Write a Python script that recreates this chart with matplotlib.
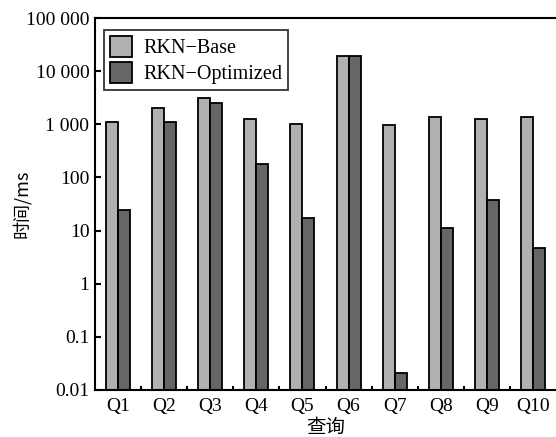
import numpy as np
import matplotlib
matplotlib.use("Agg")
import matplotlib.pyplot as plt
from matplotlib.ticker import FixedLocator, NullFormatter


# --------------------------------------------------
# Data
# --------------------------------------------------

queries = ["Q1", "Q2", "Q3", "Q4", "Q5", "Q6", "Q7", "Q8", "Q9", "Q10"]
base_ms = [1100, 2050, 3170, 1240, 1000, 19300, 990, 1350, 1275, 1350]
opt_ms = [24, 1120, 2480, 181, 17.5, 19300, 0.0206, 11, 37.6, 4.6]

y_ticks = [0.01, 0.1, 1, 10, 100, 1000, 10000, 100000]
y_tick_labels = ["0.01", "0.1", "1", "10", "100", "1 000", "10 000", "100 000"]

series_names = ["RKN\u2212Base", "RKN\u2212Optimized"]


# --------------------------------------------------
# Style
# --------------------------------------------------

plt.rcParams["font.family"] = ["Liberation Serif", "Noto Sans CJK SC", "DejaVu Sans"]
plt.rcParams["font.size"] = 14

light = "#b1b1b1"
dark = "#666666"
bar_w = 0.26


# --------------------------------------------------
# Plot
# --------------------------------------------------

fig = plt.figure(figsize=(5.56, 4.37), dpi=100)
ax = fig.add_axes([95 / 556, 1 - 390 / 437, 461 / 556, 372 / 437])

x = np.arange(len(queries))
ax.bar(x - bar_w / 2, base_ms, width=bar_w, color=light, edgecolor="black",
       linewidth=1.3, label=series_names[0])
ax.bar(x + bar_w / 2, opt_ms, width=bar_w, color=dark, edgecolor="black",
       linewidth=1.3, label=series_names[1])

ax.set_yscale("log")
ax.set_ylim(0.01, 100000)
ax.set_xlim(-0.5, 9.5)

ax.yaxis.set_major_locator(FixedLocator(y_ticks))
ax.set_yticklabels(y_tick_labels)
ax.yaxis.set_minor_formatter(NullFormatter())
ax.tick_params(axis="y", which="major", direction="in", length=4, width=1.5, pad=4)
ax.tick_params(axis="y", which="minor", length=0)

ax.set_xticks(x)
ax.set_xticklabels(queries)
ax.xaxis.set_minor_locator(FixedLocator(x[:-1] + 0.5))
ax.tick_params(axis="x", which="major", length=0, pad=6)
ax.tick_params(axis="x", which="minor", direction="in", length=3, width=1.5)

for side in ["left", "bottom", "top"]:
    ax.spines[side].set_linewidth(1.5)
ax.spines["right"].set_visible(False)

ax.set_ylabel("时间/ms", family=["Noto Sans CJK SC"], fontsize=13)
ax.yaxis.set_label_coords(-0.139, 0.5)
ax.set_xlabel("查询", family=["Noto Sans CJK SC"], fontsize=14, labelpad=1)

leg = ax.legend(loc="upper left", bbox_to_anchor=(-0.002, 0.995), frameon=True,
                fancybox=False, edgecolor="black", handlelength=1.1,
                handleheight=1.2, handletextpad=0.55, borderpad=0.3,
                labelspacing=0.2, fontsize=14.5)
leg.get_frame().set_linewidth(1.3)

fig.savefig("out.png", dpi=100, facecolor="white")
plt.close(fig)
